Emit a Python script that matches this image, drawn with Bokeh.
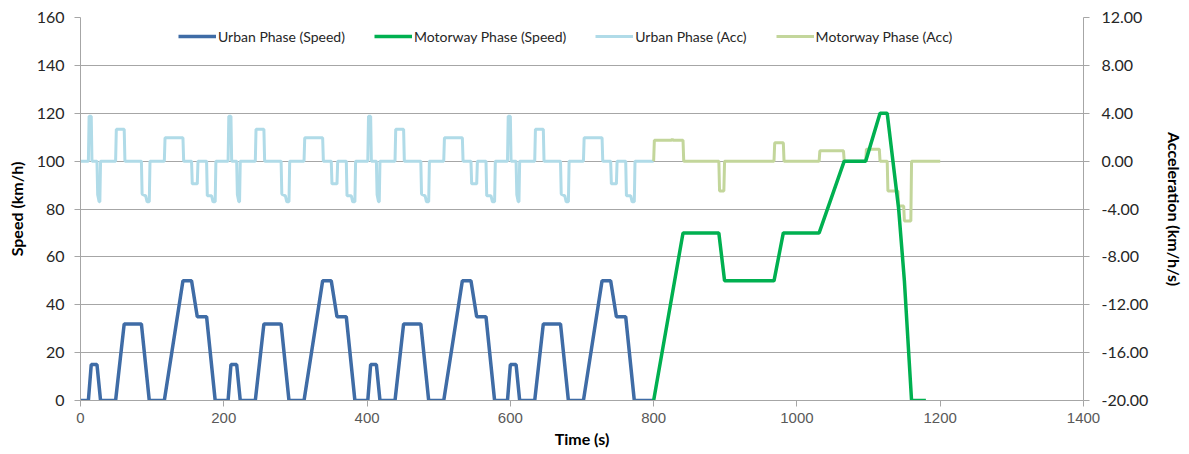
from bokeh.plotting import figure
from bokeh.models import Range1d, LinearAxis, FixedTicker, PrintfTickFormatter, Legend, LegendItem
from bokeh.embed import file_html
from bokeh.resources import INLINE

# ---------------- data ----------------
urban_speed_t = [0, 11, 15, 23, 28, 49, 61, 85, 96, 117, 143, 155, 163, 176, 188,
                 195, 206, 210, 218, 223, 244, 256, 280, 291, 312, 338, 350, 358, 371, 383,
                 390, 401, 405, 413, 418, 439, 451, 475, 486, 507, 533, 545, 553, 566, 578,
                 585, 596, 600, 608, 613, 634, 646, 670, 681, 702, 728, 740, 748, 761, 773, 800]
urban_speed_v = [0, 0, 15, 15, 0, 0, 32, 32, 0, 0, 50, 50, 35, 35, 0,
                 0, 0, 15, 15, 0, 0, 32, 32, 0, 0, 50, 50, 35, 35, 0,
                 0, 0, 15, 15, 0, 0, 32, 32, 0, 0, 50, 50, 35, 35, 0,
                 0, 0, 15, 15, 0, 0, 32, 32, 0, 0, 50, 50, 35, 35, 0, 0]

motorway_speed_t = [800, 841, 891, 899, 968, 981, 1031, 1066, 1096, 1116, 1126, 1142, 1150, 1160, 1180]
motorway_speed_v = [0, 70, 70, 50, 50, 70, 70, 100, 100, 120, 120, 80, 50, 0, 0]

urban_acc_t = [0, 11, 12, 15, 16, 23, 24, 26, 27, 28, 49, 50, 61, 62, 85, 86, 91, 93, 96, 97,
               117, 118, 143, 144, 155, 156, 163, 164, 176, 177, 183, 185, 188, 189,
               195, 206, 207, 210, 211, 218, 219, 221, 222, 223, 244, 245, 256, 257, 280, 281, 286, 288, 291, 292,
               312, 313, 338, 339, 350, 351, 358, 359, 371, 372, 378, 380, 383, 384,
               390, 401, 402, 405, 406, 413, 414, 416, 417, 418, 439, 440, 451, 452, 475, 476, 481, 483, 486, 487,
               507, 508, 533, 534, 545, 546, 553, 554, 566, 567, 573, 575, 578, 579,
               585, 596, 597, 600, 601, 608, 609, 611, 612, 613, 634, 635, 646, 647, 670, 671, 676, 678, 681, 682,
               702, 703, 728, 729, 740, 741, 748, 749, 761, 762, 768, 770, 773, 774, 800]
urban_acc_v = [0, 0, 3.75, 3.75, 0, 0, -2.8, -3.4, -3.4, 0, 0, 2.67, 2.67, 0, 0, -2.75, -2.9, -3.4, -3.4, 0,
               0, 1.95, 1.95, 0, 0, -1.9, -1.9, 0, 0, -2.9, -2.9, -3.4, -3.4, 0,
               0, 0, 3.75, 3.75, 0, 0, -2.8, -3.4, -3.4, 0, 0, 2.67, 2.67, 0, 0, -2.75, -2.9, -3.4, -3.4, 0,
               0, 1.95, 1.95, 0, 0, -1.9, -1.9, 0, 0, -2.9, -2.9, -3.4, -3.4, 0,
               0, 0, 3.75, 3.75, 0, 0, -2.8, -3.4, -3.4, 0, 0, 2.67, 2.67, 0, 0, -2.75, -2.9, -3.4, -3.4, 0,
               0, 1.95, 1.95, 0, 0, -1.9, -1.9, 0, 0, -2.9, -2.9, -3.4, -3.4, 0,
               0, 0, 3.75, 3.75, 0, 0, -2.8, -3.4, -3.4, 0, 0, 2.67, 2.67, 0, 0, -2.75, -2.9, -3.4, -3.4, 0,
               0, 1.95, 1.95, 0, 0, -1.9, -1.9, 0, 0, -2.9, -2.9, -3.4, -3.4, 0, 0]

motorway_acc_t = [800, 801, 825, 826, 827, 841, 842, 891, 892, 898, 899, 968, 969, 981, 982,
                  1031, 1032, 1065, 1066, 1096, 1097, 1115, 1116, 1126, 1127, 1141, 1142,
                  1149, 1150, 1159, 1160, 1200]
motorway_acc_v = [0, 1.75, 1.75, 1.85, 1.75, 1.75, 0, 0, -2.5, -2.5, 0, 0, 1.54, 1.54, 0,
                  0, 0.86, 0.86, 0, 0, 1.0, 1.0, 0, 0, -2.5, -2.5, -3.75,
                  -3.75, -5.0, -5.0, 0, 0]

time_ticks = [0, 200, 400, 600, 800, 1000, 1200, 1400]
speed_ticks = [0, 20, 40, 60, 80, 100, 120, 140, 160]
acc_ticks = [-20, -16, -12, -8, -4, 0, 4, 8, 12]

# ---------------- styling ----------------
FONT = "Lato"
GRID = "#a6a6a6"
C_URBAN = "#3f6ca6"
C_MOTOR = "#00b050"
C_URBAN_ACC = "#b0dbe8"
C_MOTOR_ACC = "#c3d69b"

p = figure(width=1189, height=454, output_backend="svg", toolbar_location=None,
           x_range=Range1d(0, 1400), y_range=Range1d(0, 160),
           min_border_left=80, min_border_right=106, min_border_top=17, min_border_bottom=54)
p.outline_line_color = None
p.background_fill_color = "white"
p.xgrid.visible = False
p.ygrid.grid_line_color = GRID
p.ygrid.grid_line_width = 1

p.extra_y_ranges = {"acc": Range1d(-20, 12)}

# lines (acc first so speed is on top)
r_uacc = p.line(urban_acc_t, urban_acc_v, y_range_name="acc", line_color=C_URBAN_ACC, line_width=3)
r_macc = p.line(motorway_acc_t, motorway_acc_v, y_range_name="acc", line_color=C_MOTOR_ACC, line_width=3)
r_us = p.line(urban_speed_t, urban_speed_v, line_color=C_URBAN, line_width=3.5)
r_ms = p.line(motorway_speed_t, motorway_speed_v, line_color=C_MOTOR, line_width=3.5)

# axes
xa = p.xaxis[0]
xa.ticker = FixedTicker(ticks=time_ticks)
xa.axis_label = "Time (s)"
xa.axis_label_text_font = FONT
xa.axis_label_text_font_style = "bold"
xa.axis_label_text_font_size = "16px"
xa.axis_label_text_color = "#000000"
xa.axis_label_standoff = 3
xa.major_label_text_font = "Liberation Sans"
xa.major_label_text_font_size = "15px"
xa.major_label_text_color = "#595959"
xa.major_label_standoff = 6
xa.major_tick_out = 6
xa.major_tick_in = 0
xa.minor_tick_out = 0
xa.minor_tick_in = 0
xa.axis_line_color = GRID
xa.major_tick_line_color = GRID

ya = p.yaxis[0]
ya.ticker = FixedTicker(ticks=speed_ticks)
ya.axis_label = "Speed (km/h)"
ya.axis_label_text_font = FONT
ya.axis_label_text_font_style = "bold"
ya.axis_label_text_font_size = "16px"
ya.axis_label_text_color = "#000000"
ya.axis_label_standoff = 8
ya.major_label_text_font = FONT
ya.major_label_text_font_size = "16px"
ya.major_label_text_color = "#262626"
ya.major_label_standoff = 10
ya.major_tick_out = 6
ya.major_tick_in = 0
ya.minor_tick_out = 0
ya.minor_tick_in = 0
ya.axis_line_color = GRID
ya.major_tick_line_color = GRID

ra = LinearAxis(y_range_name="acc", ticker=FixedTicker(ticks=acc_ticks),
                formatter=PrintfTickFormatter(format="%.2f"))
ra.axis_label = "Acceleration (km/h/s)"
ra.axis_label_text_font = FONT
ra.axis_label_text_font_style = "bold"
ra.axis_label_text_font_size = "16px"
ra.axis_label_text_color = "#000000"
ra.axis_label_standoff = 14
ra.major_label_text_font = FONT
ra.major_label_text_font_size = "16px"
ra.major_label_text_color = "#262626"
ra.major_label_standoff = 12
ra.major_tick_out = 6
ra.major_tick_in = 0
ra.minor_tick_out = 0
ra.minor_tick_in = 0
ra.axis_line_color = GRID
ra.major_tick_line_color = GRID
p.add_layout(ra, "right")

legend = Legend(items=[
    LegendItem(label="Urban Phase (Speed)", renderers=[r_us]),
    LegendItem(label="Motorway Phase (Speed)", renderers=[r_ms]),
    LegendItem(label="Urban Phase (Acc)", renderers=[r_uacc]),
    LegendItem(label="Motorway Phase (Acc)", renderers=[r_macc]),
], orientation="horizontal", location=(96, 352))
legend.label_text_font = FONT
legend.label_text_font_size = "14px"
legend.label_text_color = "#262626"
legend.glyph_width = 38
legend.label_standoff = 2
legend.spacing = 29
legend.padding = 2
legend.margin = 0
legend.border_line_alpha = 0
legend.background_fill_alpha = 0
p.add_layout(legend, "center")

open("out.html", "w").write(file_html(p, INLINE))
